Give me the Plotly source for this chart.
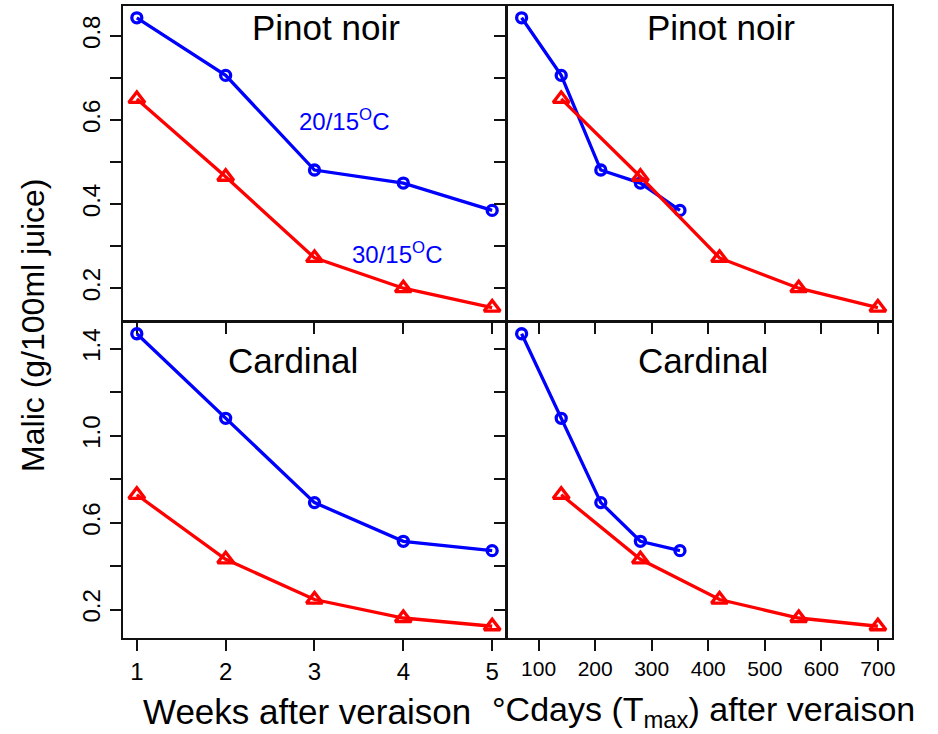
import plotly.graph_objects as go

# ---- data ----
weeks = [1, 2, 3, 4, 5]
cdays_20 = [70, 140, 210, 280, 350]
cdays_30 = [140, 280, 420, 560, 700]
pinot_20 = [0.843, 0.706, 0.481, 0.450, 0.385]
pinot_30 = [0.650, 0.465, 0.272, 0.200, 0.154]
cardinal_20 = [1.469, 1.080, 0.692, 0.514, 0.471]
cardinal_30 = [0.728, 0.431, 0.246, 0.161, 0.123]

week_ticks = [1, 2, 3, 4, 5]
week_labels = ["1", "2", "3", "4", "5"]
cday_ticks = [100, 200, 300, 400, 500, 600, 700]
cday_labels = ["100", "200", "300", "400", "500", "600", "700"]
pinot_yticks = [0.2, 0.4, 0.6, 0.8]
pinot_ylabels = ["0.2", "0.4", "0.6", "0.8"]
pinot_yminor = [0.3, 0.5, 0.7]
card_yticks = [0.2, 0.6, 1.0, 1.4]
card_ylabels = ["0.2", "0.6", "1.0", "1.4"]
card_yminor = [0.4, 0.8, 1.2]

W, H = 938, 734
FONT = "Liberation Sans, Arial, sans-serif"
NARROW = "Liberation Sans Narrow, Liberation Sans, Arial, sans-serif"
BLUE = "#0000FF"
RED = "#FF0000"


def dx(a, b):
    return [a / W, b / W]


def dy(top, bot):
    return [1 - bot / H, 1 - top / H]


fig = go.Figure()

panels = [
    ("x", "y", weeks, pinot_20, weeks, pinot_30),
    ("x2", "y2", cdays_20, pinot_20, cdays_30, pinot_30),
    ("x3", "y3", weeks, cardinal_20, weeks, cardinal_30),
    ("x4", "y4", cdays_20, cardinal_20, cdays_30, cardinal_30),
]
for xa, ya, x20, y20, x30, y30 in panels:
    fig.add_trace(go.Scatter(
        x=x20, y=y20, xaxis=xa, yaxis=ya, mode="lines+markers",
        line=dict(color=BLUE, width=3.3),
        marker=dict(symbol="circle-open", size=10, color=BLUE, line=dict(width=3.3, color=BLUE)),
        showlegend=False, cliponaxis=False))
    fig.add_trace(go.Scatter(
        x=x30, y=y30, xaxis=xa, yaxis=ya, mode="lines+markers",
        line=dict(color=RED, width=3.3),
        marker=dict(symbol="triangle-up-open", size=14, color=RED, line=dict(width=3.3, color=RED)),
        showlegend=False, cliponaxis=False))

ax_common = dict(showline=True, linecolor="#111", linewidth=2, mirror=True,
                 ticks="outside", ticklen=11, tickwidth=1.5, tickcolor="#111",
                 showgrid=False, zeroline=False)


def minor(vals):
    return dict(tickvals=vals, ticks="outside", ticklen=11, tickwidth=1.5,
                tickcolor="#111", showgrid=False)


week_range = [0.84, 5.16]
cday_range = [44.8, 725.2]
pinot_range = [0.122, 0.871]
card_range = [0.069, 1.523]

fig.update_layout(
    width=W, height=H,
    margin=dict(l=0, r=0, t=0, b=0),
    paper_bgcolor="white", plot_bgcolor="white",
    font=dict(family=FONT, color="black"),
    xaxis=dict(domain=dx(123, 508), range=week_range, anchor="y",
               tickvals=week_ticks, showticklabels=False, **ax_common),
    yaxis=dict(domain=dy(6, 321), range=pinot_range, anchor="x",
               tickvals=pinot_yticks, ticktext=pinot_ylabels, tickangle=-90,
               minor=minor(pinot_yminor),
               tickfont=dict(size=24), **ax_common),
    xaxis2=dict(domain=dx(509, 895), range=cday_range, anchor="y2",
                tickvals=cday_ticks, showticklabels=False, **ax_common),
    yaxis2=dict(domain=dy(6, 321), range=pinot_range, anchor="x2",
                tickvals=pinot_yticks, showticklabels=False,
                minor=minor(pinot_yminor), **ax_common),
    xaxis3=dict(domain=dx(123, 508), range=week_range, anchor="y3",
                tickvals=week_ticks, ticktext=week_labels,
                tickfont=dict(size=24), **ax_common),
    yaxis3=dict(domain=dy(322, 638), range=card_range, anchor="x3",
                tickvals=card_yticks, ticktext=card_ylabels, tickangle=-90,
                minor=minor(card_yminor),
                tickfont=dict(size=24), **ax_common),
    xaxis4=dict(domain=dx(509, 895), range=cday_range, anchor="y4",
                tickvals=cday_ticks, ticktext=cday_labels,
                tickfont=dict(size=21, family=NARROW), **ax_common),
    yaxis4=dict(domain=dy(322, 638), range=card_range, anchor="x4",
                tickvals=card_yticks, showticklabels=False,
                minor=minor(card_yminor), **ax_common),
)

ann = []
for txt, px, py in [("Pinot noir", 327, 27), ("Pinot noir", 723, 27),
                    ("Cardinal", 294, 360), ("Cardinal", 705, 360)]:
    ann.append(dict(text=txt, x=px / W, y=1 - py / H, xref="paper", yref="paper",
                    showarrow=False, font=dict(size=35), xanchor="center", yanchor="middle"))
ann.append(dict(text="20/15<sup>O</sup>C", x=3.33, y=0.60, xref="x", yref="y",
                showarrow=False, font=dict(size=24, color=BLUE), xanchor="center", yanchor="middle"))
ann.append(dict(text="30/15<sup>O</sup>C", x=3.925, y=0.284, xref="x", yref="y",
                showarrow=False, font=dict(size=24, color=BLUE), xanchor="center", yanchor="middle"))
ann.append(dict(text="Malic (g/100ml juice)", x=33 / W, y=1 - 325 / H, xref="paper", yref="paper",
                showarrow=False, textangle=-90, font=dict(size=32), xanchor="center", yanchor="middle"))
ann.append(dict(text="Weeks after veraison", x=308 / W, y=1 - 711 / H, xref="paper", yref="paper",
                showarrow=False, font=dict(size=35), xanchor="center", yanchor="middle"))
ann.append(dict(text="°Cdays (T<sub>max</sub>) after veraison", x=706 / W, y=1 - 711 / H,
                xref="paper", yref="paper",
                showarrow=False, font=dict(size=34), xanchor="center", yanchor="middle"))
fig.update_layout(annotations=ann)

fig.write_html("out.html")
